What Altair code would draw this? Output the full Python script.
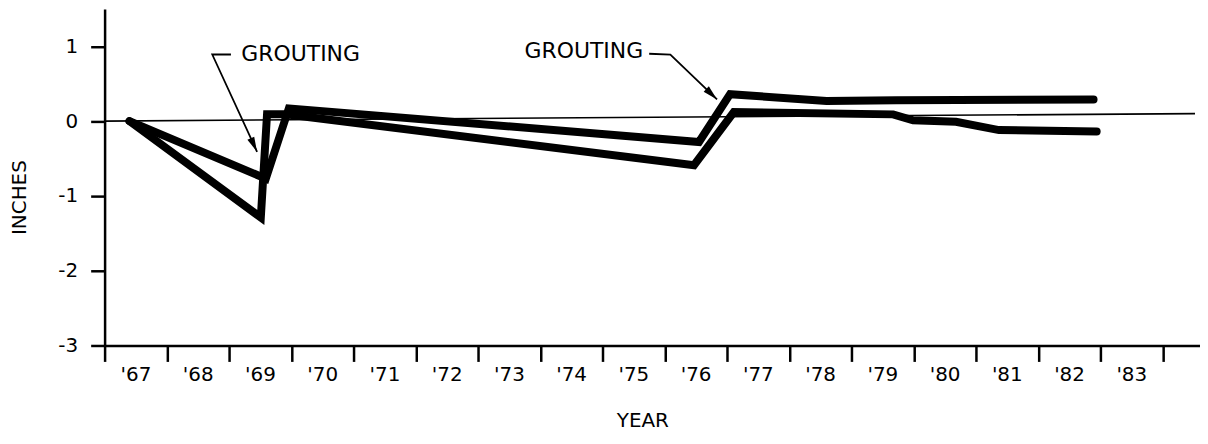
import altair as alt
import pandas as pd

# ---- data ----
line1_year = [1967.40, 1969.51, 1969.61, 1969.91, 1976.47, 1977.11, 1979.67, 1979.99, 1980.68, 1981.37, 1982.94]
line1_in = [0.00, -1.29, 0.09, 0.09, -0.59, 0.12, 0.09, 0.01, -0.01, -0.12, -0.14]

line2_year = [1967.40, 1969.59, 1969.96, 1976.55, 1977.05, 1978.60, 1979.72, 1982.89]
line2_in = [0.00, -0.77, 0.17, -0.28, 0.36, 0.27, 0.28, 0.29]

zero_year = [1967.0, 1984.52]
zero_in = [0.0, 0.10]

x_ticks = list(range(1967, 1985))
y_ticks = [-3, -2, -1, 0, 1]

note_text = ["GROUTING", "GROUTING"]
note_year = [1970.15, 1974.70]
note_in = [0.89, 0.93]

lead1_year = [1969.03, 1968.73, 1969.45]
lead1_in = [0.89, 0.89, -0.41]
lead2_year = [1975.75, 1976.09, 1976.84]
lead2_in = [0.90, 0.89, 0.29]

arrow_year = [1969.45, 1976.84]
arrow_in = [-0.41, 0.29]
arrow_angle = [335.1, 313.8]

FONT = "DejaVu Sans"

# ---- tables ----
lines = pd.DataFrame(
    [{"s": "A", "o": i, "year": x, "inches": y} for i, (x, y) in enumerate(zip(line1_year, line1_in))]
    + [{"s": "B", "o": i, "year": x, "inches": y} for i, (x, y) in enumerate(zip(line2_year, line2_in))]
)
zero = pd.DataFrame({"year": zero_year, "inches": zero_in})
notes = pd.DataFrame({"t": note_text, "year": note_year, "inches": note_in})
leads = pd.DataFrame(
    [{"g": "1", "o": i, "year": x, "inches": y} for i, (x, y) in enumerate(zip(lead1_year, lead1_in))]
    + [{"g": "2", "o": i, "year": x, "inches": y} for i, (x, y) in enumerate(zip(lead2_year, lead2_in))]
)
arrows = pd.DataFrame({"year": arrow_year, "inches": arrow_in, "ang": arrow_angle})

xscale = alt.Scale(domain=[1967, 1984.6], nice=False, zero=False)
yscale = alt.Scale(domain=[-3, 1.5], nice=False, zero=False)

xaxis = alt.Axis(
    values=x_ticks,
    labelExpr="datum.value < 1984 ? \"'\" + (datum.value - 1900) : ''",
    labelOffset=31, labelPadding=3, labelFont=FONT, labelFontSize=20, labelColor="black",
    labelFlush=False, labelOverlap=False, labelBound=False,
    tickSize=16, tickWidth=2.5, tickColor="black",
    domainWidth=2.5, domainColor="black", grid=False,
    title="YEAR", titleFont=FONT, titleFontSize=20, titleFontWeight="normal", titleColor="black",
    titleX=540, titleY=75, titleBaseline="middle", titleAlign="center",
)
yaxis = alt.Axis(
    values=y_ticks,
    labelExpr="datum.value < 0 ? '-' + (-datum.value) : '' + datum.value",
    labelPadding=13, labelFont=FONT, labelFontSize=20, labelColor="black", labelFlush=False,
    tickSize=14, tickWidth=2.5, tickColor="black",
    domainWidth=2.5, domainColor="black", grid=False,
    title="INCHES", titleFont=FONT, titleFontSize=20, titleFontWeight="normal", titleColor="black",
    titleX=-85, titleY=189, titleAngle=270, titleBaseline="middle", titleAlign="center",
)

enc_x = alt.X("year:Q", scale=xscale, axis=xaxis)
enc_y = alt.Y("inches:Q", scale=yscale, axis=yaxis)

zero_layer = alt.Chart(zero).mark_line(color="black", strokeWidth=1.6).encode(x=enc_x, y=enc_y)

series = alt.Chart(lines).mark_line(
    color="black", strokeWidth=8, strokeCap="round", strokeJoin="miter", strokeMiterLimit=4
).encode(x=enc_x, y=enc_y, detail="s:N", order="o:Q")

lead_layer = alt.Chart(leads).mark_line(color="black", strokeWidth=1.8).encode(
    x=enc_x, y=enc_y, detail="g:N", order="o:Q"
)

arrow_layer = alt.Chart(arrows).mark_point(
    shape="M0,0L-0.5,-2L0.5,-2Z", filled=True, size=225, color="black", opacity=1
).encode(x=enc_x, y=enc_y, angle=alt.Angle("ang:Q", scale=None))

text_layer = alt.Chart(notes).mark_text(
    font=FONT, fontSize=22, color="black", align="center", baseline="middle"
).encode(x=enc_x, y=enc_y, text="t:N")

chart = alt.layer(zero_layer, series, lead_layer, arrow_layer, text_layer).properties(
    width=1100, height=338,
    autosize=alt.AutoSizeParams(type="none"),
    padding={"left": 97, "top": 0, "right": 0, "bottom": 88},
    background="white",
).configure_view(stroke=None)

chart.save("out.html", embed_options={"renderer": "svg", "actions": False})
